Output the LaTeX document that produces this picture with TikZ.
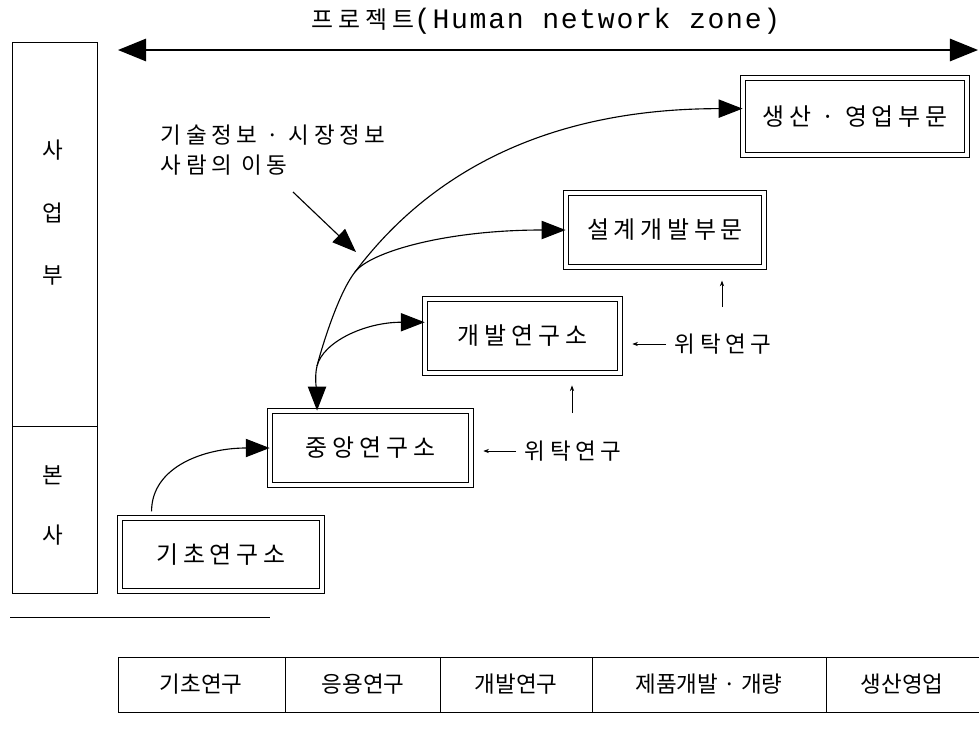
\documentclass[tikz,border=0pt]{standalone}
\usepackage{fontspec}
\setmainfont{Noto Sans CJK KR}
\newfontfamily\krwide{Noto Sans CJK KR}[LetterSpace=20]
\newfontfamily\latinmono{Liberation Mono}[LetterSpace=6]
\usetikzlibrary{arrows.meta,calc}

\begin{document}
\begin{tikzpicture}[x=0.025cm,y=-0.025cm,
  unitbox/.style={draw,double,double distance=3.2pt,line width=0.6pt,minimum height=1.85cm,font=\krwide\fontsize{17}{20}\selectfont},
  flow/.style={line width=0.8pt,-{Triangle[length=17pt,width=13pt]}},
  small arrow/.style={line width=0.5pt,-{Stealth[length=4pt,width=3pt]}},
  lbl/.style={font=\krwide\fontsize{16}{21}\selectfont},
  cell/.style={font=\fontsize{16}{19}\selectfont}]
  \useasboundingbox (0,0) rectangle (979,738);

  % project zone
  \coordinate (zl) at (118,50);
  \coordinate (zr) at (978,50);
  \draw[line width=1pt,{Triangle[length=20pt,width=16pt]}-{Triangle[length=20pt,width=16pt]}] (zl) -- (zr);
  \node[font=\fontsize{17}{20}\selectfont] (zone) at (546,21) {\krwide 프로젝트\latinmono\fontsize{20}{20}\selectfont(Human network zone)};

  % left column
  \draw[line width=0.7pt] (12,42) rectangle (97,593);
  \draw[line width=0.7pt] (12,426) -- (97,426);
  \foreach \y/\t [count=\i] in {150/사,213/업,275/부,475/본,535/사}
    \node[cell] (col\i) at (53,\y) {\t};
  \draw[line width=0.7pt] (10,617) -- (270,617);

  % units
  \node[unitbox,minimum width=5.05cm,minimum height=1.83cm] (gicho) at (221,554.5) {기초연구소};
  \node[unitbox,minimum width=5.02cm] (jung) at (370.5,448) {중앙연구소};
  \node[unitbox,minimum width=4.87cm] (gaebal) at (522.5,336) {개발연구소};
  \node[unitbox,minimum width=4.95cm] (seolgye) at (665,230) {설계개발부문};
  \node[unitbox,minimum width=5.6cm,minimum height=1.93cm] (saengsan) at (855,116.5) {생산 · 영업부문};

  \draw[flow] ($(gicho.north west)+(32,-6)$) .. controls +(0,-45) and +(-65,0) .. (jung.west);
  \coordinate (br1) at (317,366);
  \coordinate (br2) at (355,272);
  \draw[line width=0.8pt,{Triangle[length=17pt,width=13pt]}-{Triangle[length=17pt,width=13pt]}]
    (jung.145) .. controls +(0,-15) and +(-3,12) .. (br1)
    .. controls +(3,-12) and +(-18,23) .. (br2)
    .. controls +(60,-80) and +(-220,0) .. (saengsan.176);
  \draw[flow] (br2) .. controls +(15,-20) and +(-120,0) .. (seolgye.west);
  \draw[flow] (br1) .. controls +(6,-24) and +(-60,0) .. (gaebal.172);

  % info flow
  \node[lbl,align=left,anchor=west] (info) at (156,150) {기술정보 · 시장정보\\사람의 이동};
  \coordinate (infofrom) at (293,192);
  \coordinate (infotip) at (356,252);
  \draw[line width=0.8pt,-{Triangle[length=17pt,width=13pt]}] (infofrom) -- (infotip);

  % contract research
  \node[lbl,anchor=west] (wt1) at (520,451) {위탁연구};
  \draw[small arrow,shorten >=0.3cm,shorten <=0.1cm] (wt1.west) -- (wt1.west -| jung.east);
  \node[lbl,anchor=west] (wt2) at (670,344) {위탁연구};
  \draw[small arrow,shorten >=0.3cm,shorten <=0.1cm] (wt2.west) -- (wt2.west -| gaebal.east);
  \coordinate (up1) at (572,413);
  \draw[small arrow,shorten >=0.3cm] (up1) -- (up1 |- gaebal.south);
  \coordinate (up2) at (722,307);
  \draw[small arrow,shorten >=0.33cm] (up2) -- (up2 |- seolgye.south);

  % stages
  \draw[line width=0.7pt] (979,657) -- (118,657) -- (118,712) -- (979,712);
  \foreach \x in {285,440,592,826} \draw[line width=0.7pt] (\x,657) -- (\x,712);
  \foreach \x/\t [count=\i] in {201/기초연구,363/응용연구,516/개발연구,709/제품개발 · 개량,902/생산영업}
    \node[cell] (stage\i) at (\x,684) {\t};

\end{tikzpicture}
\end{document}
